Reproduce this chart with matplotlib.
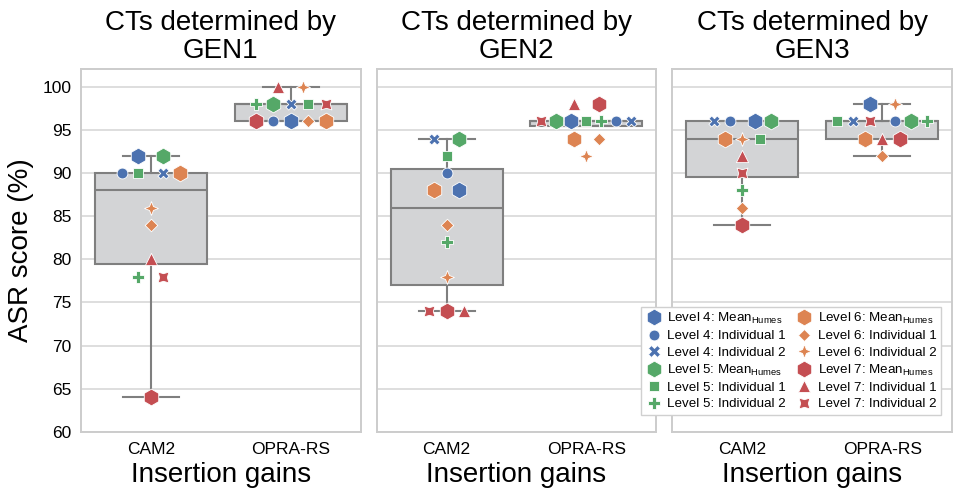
import numpy as np
import matplotlib
matplotlib.use("Agg")
import matplotlib.pyplot as plt
from matplotlib.path import Path
from matplotlib.transforms import Affine2D
from matplotlib.lines import Line2D

plt.rcParams["font.family"] = ["Liberation Sans", "DejaVu Sans"]

# ---------------------------------------------
# Data (ASR scores in %)
# order of the 12 values in each list:
# L4 Mean, L4 Ind1, L4 Ind2, L5 Mean, L5 Ind1, L5 Ind2,
# L6 Mean, L6 Ind1, L6 Ind2, L7 Mean, L7 Ind1, L7 Ind2
# ---------------------------------------------

gens = ["GEN1", "GEN2", "GEN3"]
gains = ["CAM2", "OPRA-RS"]
levels = ["Level 4", "Level 5", "Level 6", "Level 7"]
kinds = ["Mean$_\\mathregular{Humes}$", "Individual 1", "Individual 2"]

gen1_cam2 = [92, 90, 90, 92, 90, 78, 90, 84, 86, 64, 80, 78]
gen1_opra = [96, 96, 98, 98, 98, 98, 96, 96, 100, 96, 100, 98]
gen2_cam2 = [88, 90, 94, 94, 92, 82, 88, 84, 78, 74, 74, 74]
gen2_opra = [96, 96, 96, 96, 96, 96, 94, 94, 92, 98, 98, 96]
gen3_cam2 = [96, 96, 96, 96, 94, 88, 94, 86, 94, 84, 92, 90]
gen3_opra = [98, 96, 96, 96, 96, 96, 94, 92, 98, 94, 94, 96]

# order in which the points of one score sit from left to right
gen1_cam2_order = [0, 3, 1, 4, 2, 6, 8, 7, 10, 5, 11, 9]
gen1_opra_order = [10, 8, 5, 3, 2, 4, 11, 9, 1, 0, 7, 6]
gen2_cam2_order = [2, 3, 4, 1, 6, 0, 7, 5, 8, 11, 9, 10]
gen2_opra_order = [10, 9, 11, 3, 0, 4, 5, 1, 2, 6, 7, 8]
gen3_cam2_order = [2, 1, 0, 3, 6, 8, 4, 10, 11, 5, 7, 9]
gen3_opra_order = [0, 8, 4, 2, 11, 1, 3, 5, 6, 10, 9, 7]

scores = [[gen1_cam2, gen1_opra], [gen2_cam2, gen2_opra], [gen3_cam2, gen3_opra]]
orders = [[gen1_cam2_order, gen1_opra_order],
          [gen2_cam2_order, gen2_opra_order],
          [gen3_cam2_order, gen3_opra_order]]

# ---------------------------------------------
# Marker styles
# ---------------------------------------------

colors = ["#4C72B0", "#55A868", "#DD8452", "#C44E52"]
star4 = Path.unit_regular_star(4, innerCircle=0.4)
cross4 = Affine2D().rotate_deg(45).transform_path(Path.unit_regular_star(4, innerCircle=0.5))

mean_style = ("h", 12)
ind_styles = [
    [("o", 7.8), ("X", 8.0)],
    [("s", 6.6), ("P", 8.0)],
    [("D", 6.4), (star4, 10.0)],
    [("^", 8.8), (cross4, 7.8)],
]

styles = []
for li in range(4):
    styles.append((colors[li],) + mean_style)
    for st in ind_styles[li]:
        styles.append((colors[li],) + st)


def row_offsets(n):
    if n % 2 == 1:
        s = min(0.125, 0.75 / n)
        return (np.arange(n) - (n - 1) / 2) * s
    right = 0.09 + 0.115 * np.arange(n // 2)
    return np.r_[-right[::-1], right]


# ---------------------------------------------
# Plot
# ---------------------------------------------

fig, axes = plt.subplots(1, 3, figsize=(9.57, 5.04), dpi=100, sharey=True)
fig.subplots_adjust(left=0.0846, right=0.9948, top=0.863, bottom=0.143, wspace=0.058)

for g, ax in enumerate(axes):
    for c in range(2):
        vals = np.array(scores[g][c])
        bp = ax.boxplot(vals, positions=[c], widths=0.8, patch_artist=True,
                        showfliers=False, whis=1.5, zorder=2)
        for b in bp["boxes"]:
            b.set(facecolor="#d3d4d6", edgecolor="#7f7f7f", linewidth=1.5)
        for part in ["whiskers", "caps", "medians"]:
            for ln in bp[part]:
                ln.set(color="#7f7f7f", linewidth=1.5)

        order = orders[g][c]
        for v in np.unique(vals):
            idx = [i for i in order if vals[i] == v]
            offs = row_offsets(len(idx))
            for i, dx in zip(idx, offs):
                col, mk, ms = styles[i]
                ax.scatter(c + dx, vals[i], marker=mk, s=ms ** 2, color=col,
                           edgecolor="white", linewidth=0.6, zorder=3)

    ax.set_xlim(-0.5, 1.5)
    ax.set_ylim(60, 102.05)
    ax.set_xticks([0, 1])
    ax.set_xticklabels(gains)
    ax.set_yticks(np.arange(60, 101, 5))
    ax.tick_params(length=0, labelsize=12.5, pad=7)
    ax.grid(axis="y", color="#d4d4d4", linewidth=1.1)
    ax.set_axisbelow(True)
    for sp in ax.spines.values():
        sp.set_color("#cccccc")
        sp.set_linewidth(1.4)
    ax.set_title("CTs determined by\n" + gens[g], fontsize=20, pad=8, linespacing=1.1)
    ax.set_xlabel("Insertion gains", fontsize=20, labelpad=4)

axes[0].set_ylabel("ASR score (%)", fontsize=20, labelpad=6)

# ---------------------------------------------
# Legend
# ---------------------------------------------

handles = []
labels = []
for li in range(4):
    for k in range(3):
        col, mk, ms = styles[li * 3 + k]
        handles.append(Line2D([], [], linestyle="none", marker=mk, markersize=ms,
                              markerfacecolor=col, markeredgecolor="white",
                              markeredgewidth=0.6))
        labels.append(levels[li] + ": " + kinds[k])

fig.legend(handles, labels, ncol=2, loc="lower right",
           bbox_to_anchor=(0.99, 0.164), fontsize=9.6, frameon=True,
           fancybox=False, framealpha=1, edgecolor="#d0d0d0",
           handlelength=1.2, handletextpad=0.4, columnspacing=0.8,
           labelspacing=0.3, borderpad=0.32)

plt.savefig("out.png", dpi=100)
